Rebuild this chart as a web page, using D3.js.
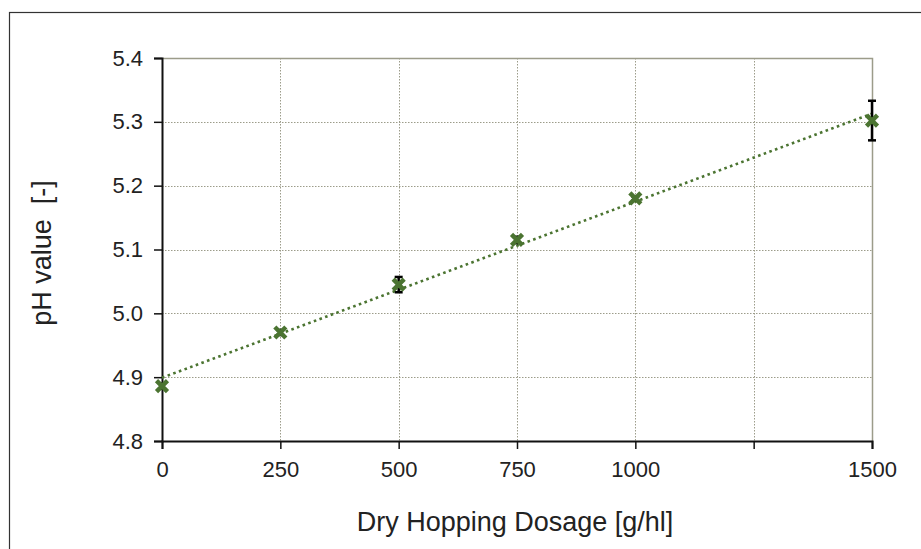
<html>
<head>
<style>
  body { margin: 0; background: #fff; }
  text { font-family: Arial, "Liberation Sans", sans-serif; fill: #222; }
</style>
</head>
<body>
<svg id="chart"></svg>
<script src="https://d3js.org/d3.v7.min.js"></script>
<script>
// data
var dosage = [0, 250, 500, 750, 1000, 1500]
var phValue = [4.886, 4.970, 5.045, 5.115, 5.180, 5.302]
var phError = [0.004, 0.004, 0.012, 0.005, 0.003, 0.031]
var xTicks = [0, 250, 500, 750, 1000, 1250, 1500]
var xTickLabels = ['0', '250', '500', '750', '1000', '', '1500']
var yTicks = [4.8, 4.9, 5.0, 5.1, 5.2, 5.3, 5.4]

var width = 921, height = 549
var plotL = 162, plotR = 872, plotT = 58, plotB = 441
var green = '#4b7431'

var svg = d3.select('#chart').attr('width', width).attr('height', height)

// outer frame (only left and top edges show)
svg.append('rect')
    .attr('x', 9.5).attr('y', 12.5)
    .attr('width', width + 20).attr('height', height + 20)
    .attr('fill', 'none').attr('stroke', '#333').attr('stroke-width', 1.2)

var x = d3.scaleLinear().domain([0, 1500]).range([plotL, plotR])
var y = d3.scaleLinear().domain([4.8, 5.4]).range([plotB, plotT])

// gridlines
var grid = svg.append('g')
grid.selectAll('line.h').data(yTicks.slice(1)).enter().append('line')
    .attr('x1', plotL).attr('x2', plotR)
    .attr('y1', function(d) { return Math.round(y(d)) + 0.5 })
    .attr('y2', function(d) { return Math.round(y(d)) + 0.5 })
    .attr('stroke', '#9c9c8a').attr('stroke-width', 1)
    .attr('stroke-dasharray', '1.5,1.5')
grid.selectAll('line.v').data(xTicks.slice(1)).enter().append('line')
    .attr('y1', plotT).attr('y2', plotB)
    .attr('x1', function(d) { return Math.round(x(d)) + 0.5 })
    .attr('x2', function(d) { return Math.round(x(d)) + 0.5 })
    .attr('stroke', '#9c9c8a').attr('stroke-width', 1)
    .attr('stroke-dasharray', '1.5,1.5')

// top and right edge of plot
svg.append('path')
    .attr('d', 'M' + plotL + ',' + (plotT + 0.5) + 'H' + (plotR + 0.5) + 'V' + plotB)
    .attr('fill', 'none').attr('stroke', '#9c9c8a').attr('stroke-width', 1.5)

// axes
var yAxis = d3.axisLeft(y).tickValues(yTicks).tickFormat(d3.format('.1f')).tickSize(8).tickPadding(11)
var xAxis = d3.axisBottom(x).tickValues(xTicks)
    .tickFormat(function(d, i) { return xTickLabels[i] }).tickSize(8).tickPadding(12)

var gy = svg.append('g').attr('transform', 'translate(' + plotL + ',0)').call(yAxis)
var gx = svg.append('g').attr('transform', 'translate(0,' + plotB + ')').call(xAxis)
;[gx, gy].forEach(function(g) {
    g.select('.domain').attr('stroke', '#111').attr('stroke-width', 2)
    g.selectAll('.tick line').attr('stroke', '#111').attr('stroke-width', 1.5)
    g.selectAll('.tick text').style('font-size', '22px').attr('fill', '#222')
        .style('font-family', 'Arial, "Liberation Sans", sans-serif')
})

// trendline (least squares, like the spreadsheet trendline)
var mx = d3.mean(dosage), my = d3.mean(phValue)
var sxy = d3.sum(dosage, function(d, i) { return (d - mx) * (phValue[i] - my) })
var sxx = d3.sum(dosage, function(d) { return (d - mx) * (d - mx) })
var slope = sxy / sxx, icpt = my - slope * mx
svg.append('line')
    .attr('x1', x(0)).attr('y1', y(icpt))
    .attr('x2', x(1500)).attr('y2', y(icpt + slope * 1500))
    .attr('stroke', green).attr('stroke-width', 2.6)
    .attr('stroke-dasharray', '2.6,3.4')

// error bars
var pts = dosage.map(function(d, i) { return { x: d, y: phValue[i], e: phError[i] } })
var eb = svg.append('g').selectAll('g').data(pts).enter().append('g')
eb.append('line')
    .attr('x1', function(d) { return x(d.x) }).attr('x2', function(d) { return x(d.x) })
    .attr('y1', function(d) { return y(d.y - d.e) }).attr('y2', function(d) { return y(d.y + d.e) })
    .attr('stroke', '#000').attr('stroke-width', 2.5)
;[-1, 1].forEach(function(s) {
    eb.append('line')
        .attr('x1', function(d) { return x(d.x) - 4 }).attr('x2', function(d) { return x(d.x) + 4 })
        .attr('y1', function(d) { return y(d.y + s * d.e) }).attr('y2', function(d) { return y(d.y + s * d.e) })
        .attr('stroke', '#000').attr('stroke-width', 2.5)
})

// markers
svg.append('g').selectAll('path').data(pts).enter().append('path')
    .attr('transform', function(d) { return 'translate(' + x(d.x) + ',' + y(d.y) + ')' })
    .attr('d', 'M-5.5,-5.5L5.5,5.5M-5.5,5.5L5.5,-5.5')
    .attr('stroke', green).attr('stroke-width', 4.5)

// axis titles
svg.append('text')
    .attr('x', (plotL + plotR) / 2 - 2).attr('y', 531)
    .attr('text-anchor', 'middle').style('font-size', '27px')
    .text('Dry Hopping Dosage [g/hl]')
svg.append('text')
    .attr('transform', 'translate(51,' + 253 + ') rotate(-90)')
    .attr('text-anchor', 'middle').style('font-size', '27px')
    .style('white-space', 'pre').attr('xml:space', 'preserve')
    .text('pH value  [-]')
</script>
</body>
</html>
